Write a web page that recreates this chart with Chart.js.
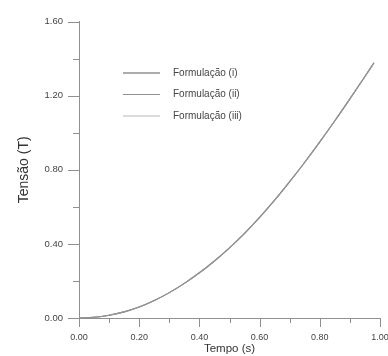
<!DOCTYPE html>
<html>
<head>
<meta charset="utf-8">
<script src="https://cdn.jsdelivr.net/npm/chart.js@4"></script>
<style>
  html, body { margin: 0; padding: 0; background: #fff; }
  #wrap { width: 388px; height: 356px; position: relative; }
</style>
</head>
<body>
<div id="wrap"><canvas id="c" width="388" height="356"></canvas></div>
<script>
// ---- Data ----
const seriesLabels = ['Formulação (i)', 'Formulação (ii)', 'Formulação (iii)'];
const tempo = [0, 0.05, 0.10, 0.15, 0.20, 0.25, 0.30, 0.35, 0.40, 0.45, 0.50, 0.55, 0.60, 0.65, 0.70, 0.75, 0.80, 0.85, 0.90, 0.95, 0.98];
const tensaoI   = [0, 0.004, 0.015, 0.033, 0.059, 0.094, 0.137, 0.187, 0.244, 0.308, 0.379, 0.457, 0.543, 0.636, 0.736, 0.841, 0.951, 1.065, 1.183, 1.304, 1.378];
const tensaoII  = [0, 0.004, 0.015, 0.033, 0.059, 0.094, 0.137, 0.187, 0.244, 0.308, 0.379, 0.457, 0.543, 0.636, 0.736, 0.841, 0.951, 1.065, 1.183, 1.304, 1.378];
const tensaoIII = [0, 0.004, 0.015, 0.033, 0.059, 0.094, 0.137, 0.187, 0.244, 0.308, 0.379, 0.457, 0.543, 0.636, 0.736, 0.841, 0.951, 1.065, 1.183, 1.304, 1.378];
const yTickValues = [0.00, 0.40, 0.80, 1.20, 1.60];
const xTickValues = [0.00, 0.20, 0.40, 0.60, 0.80, 1.00];

const seriesColors = ['#5a5a5a', '#909090', '#b8b8b8'];
const FONT = '"Liberation Sans", Arial, Helvetica, sans-serif';
const toPts = ys => tempo.map((t, i) => ({ x: t, y: ys[i] }));

// Custom axis tick marks (major + minor), positioned through the chart scales
const tickMarks = {
  id: 'tickMarks',
  afterDraw(chart) {
    const ctx = chart.ctx;
    const xs = chart.scales.x, ys = chart.scales.y;
    const a = chart.chartArea;
    ctx.save();
    ctx.strokeStyle = '#909090';
    ctx.lineWidth = 1;
    ctx.beginPath();
    for (let i = 0; i <= 8; i++) {
      const v = i * 0.2;
      const py = Math.round(ys.getPixelForValue(v)) + 0.5;
      const len = (i % 2 === 0) ? 11 : 6;
      ctx.moveTo(a.left, py); ctx.lineTo(a.left - len, py);
    }
    for (let i = 0; i <= 10; i++) {
      const v = i * 0.1;
      const px = Math.round(xs.getPixelForValue(v)) + 0.5;
      const len = (i % 2 === 0) ? 9 : 5;
      ctx.moveTo(px, a.bottom); ctx.lineTo(px, a.bottom + len);
    }
    ctx.stroke();
    ctx.restore();
  }
};

// Legend drawn inside the plot, from the dataset labels/colours
const innerLegend = {
  id: 'innerLegend',
  afterDatasetsDraw(chart) {
    const ctx = chart.ctx;
    ctx.save();
    ctx.font = '10px ' + FONT;
    ctx.textBaseline = 'middle';
    chart.data.datasets.forEach((ds, i) => {
      const y = 73 + i * 21.5;
      ctx.strokeStyle = ds.borderColor;
      ctx.lineWidth = 1.2;
      ctx.beginPath();
      ctx.moveTo(123, y); ctx.lineTo(160, y);
      ctx.stroke();
      ctx.fillStyle = '#444';
      ctx.fillText(ds.label, 173, y);
    });
    ctx.restore();
  }
};

new Chart(document.getElementById('c'), {
  type: 'line',
  data: {
    datasets: [
      { label: seriesLabels[0], data: toPts(tensaoI),   borderColor: seriesColors[0], order: 3 },
      { label: seriesLabels[1], data: toPts(tensaoII),  borderColor: seriesColors[1], order: 1 },
      { label: seriesLabels[2], data: toPts(tensaoIII), borderColor: seriesColors[2], order: 2 }
    ].map(d => Object.assign(d, { borderWidth: 1.1, pointRadius: 0, fill: false, cubicInterpolationMode: 'monotone' }))
  },
  options: {
    responsive: false,
    animation: false,
    events: [],
    layout: { padding: { top: 16, right: 8, left: 0, bottom: 0 } },
    plugins: { legend: { display: false }, tooltip: { enabled: false } },
    scales: {
      x: {
        type: 'linear', min: 0, max: 1,
        afterBuildTicks: s => { s.ticks = xTickValues.map(v => ({ value: v })); },
        afterFit: s => { s.height = 38; s.paddingLeft = 0; s.paddingRight = 0; },
        grid: { display: true, drawOnChartArea: false, drawTicks: false },
        border: { display: true, color: '#909090', width: 1 },
        ticks: { padding: 14, color: '#444', font: { family: FONT, size: 9 }, maxRotation: 0, autoSkip: false,
                 callback: v => Number(v).toFixed(2) },
        title: { display: true, text: 'Tempo (s)', color: '#333', font: { family: FONT, size: 11.5 }, padding: { top: 0, bottom: 0 } }
      },
      y: {
        type: 'linear', min: 0, max: 1.6,
        afterBuildTicks: s => { s.ticks = yTickValues.map(v => ({ value: v })); },
        afterFit: s => { s.width = 79; },
        grid: { display: true, drawOnChartArea: false, drawTicks: false },
        border: { display: true, color: '#909090', width: 1 },
        ticks: { padding: 16, color: '#444', font: { family: FONT, size: 9.5 },
                 callback: v => Number(v).toFixed(2) },
        title: { display: true, text: 'Tensão (T)', color: '#333', font: { family: FONT, size: 14 }, padding: { top: 16, bottom: 0 } }
      }
    }
  },
  plugins: [tickMarks, innerLegend]
});
</script>
</body>
</html>
